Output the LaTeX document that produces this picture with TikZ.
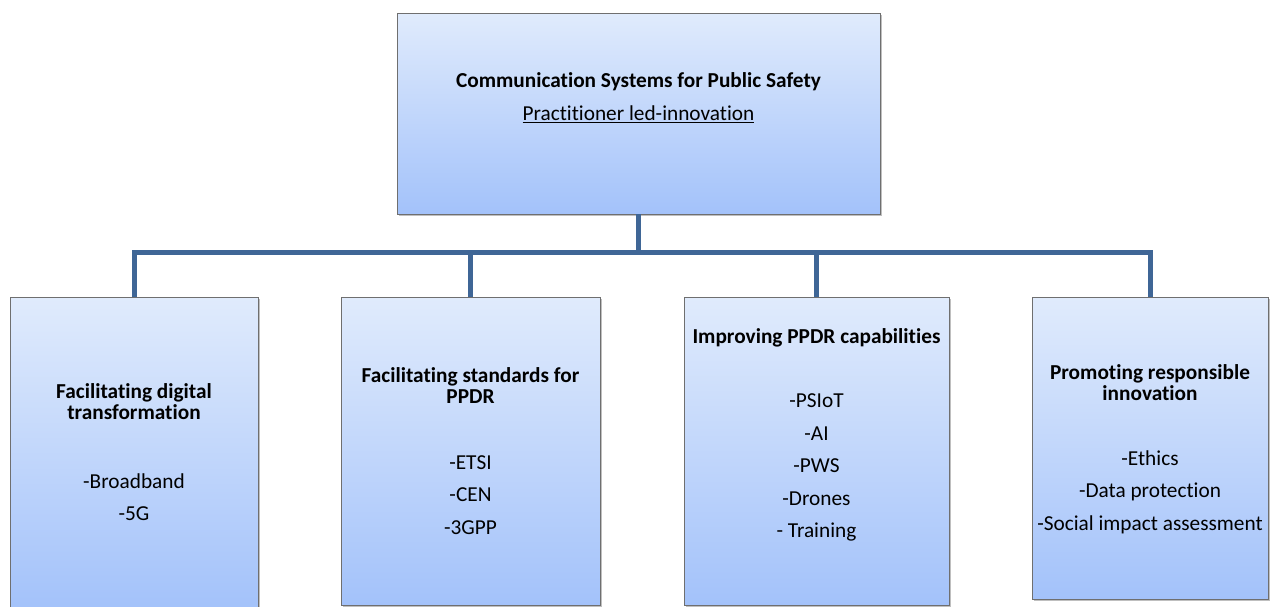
\documentclass[tikz,border=0pt]{standalone}
\usepackage{fontspec}
\setmainfont{Carlito}[Ligatures=NoCommon]
\usetikzlibrary{shadows}
\definecolor{boxtop}{HTML}{E0EBFC}
\definecolor{boxbot}{HTML}{A3C2FA}
\definecolor{boxline}{HTML}{6F6F6F}
\definecolor{conncol}{HTML}{3F6696}
\tikzset{
  box/.style={draw=boxline, line width=0.9pt, top color=boxtop, bottom color=boxbot,
    inner sep=0pt, outer sep=0pt, anchor=north west,
    drop shadow={shadow xshift=1.5pt, shadow yshift=-1.5pt, opacity=0.25, fill=black}},
  conn/.style={draw=conncol, line width=5pt},
  hd/.style={font=\fontsize{21.3}{21}\selectfont\bfseries, align=center, inner sep=0pt},
  items/.style={font=\fontsize{21.3}{32.5}\selectfont, align=center, inner sep=0pt},
}
\begin{document}
\begin{tikzpicture}[x=1pt, y=-1pt]
\useasboundingbox (0,0) rectangle (1274,606);
\node[box, minimum width=483pt, minimum height=201pt] (top) at (397,13) {};
\node[box, minimum width=248pt, minimum height=312pt] (b1) at (10,297) {};
\node[box, minimum width=259pt, minimum height=308pt] (b2) at (341,297) {};
\node[box, minimum width=265pt, minimum height=308pt] (b3) at (684,297) {};
\node[box, minimum width=236pt, minimum height=302pt] (b4) at (1032,297) {};
\coordinate (bar) at (0,252);
\draw[conn] (top.south) -- (top.south |- bar);
\draw[conn] (b1.north) -- (b1.north |- bar) -- (b4.north |- bar) -- (b4.north);
\draw[conn] (b2.north) -- (b2.north |- bar);
\draw[conn] (b3.north) -- (b3.north |- bar);
\node[hd] (title) at (638.5,82) {Communication Systems for Public Safety};
\node[font=\fontsize{21.3}{21}\selectfont, inner sep=0pt] (sub) at (638.5,114) {\underline{Practitioner led-innovation}};
\node[hd] (h1) at (134,402) {Facilitating digital\\transformation};
\node[items] (i1) at (134,497) {-Broadband\\-5G};
\node[hd] (h2) at (470.5,386) {Facilitating standards for\\PPDR};
\node[items] (i2) at (470.5,495) {-ETSI\\-CEN\\-3GPP};
\node[hd] (h3) at (816.5,338) {Improving PPDR capabilities};
\node[items] (i3) at (816.5,467.5) {-PSIoT\\-AI\\-PWS\\-Drones\\- Training};
\node[hd] (h4) at (1150,383) {Promoting responsible\\innovation};
\node[items] (i4) at (1150,492) {-Ethics\\-Data protection\\-Social impact assessment};
\end{tikzpicture}
\end{document}
